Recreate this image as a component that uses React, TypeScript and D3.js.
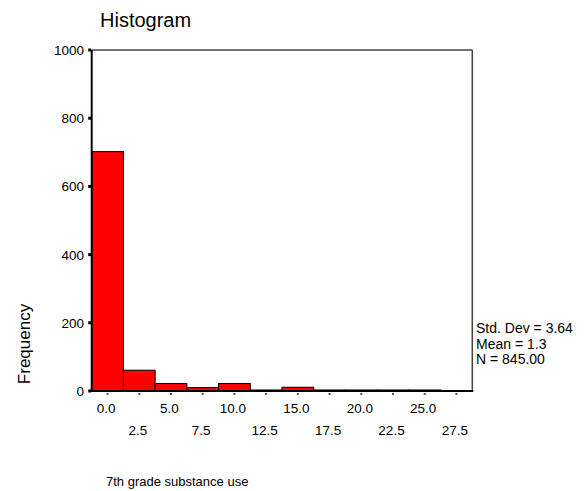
import React from "react";
import * as d3 from "d3";

const binCenters = [0, 2.5, 5, 7.5, 10, 12.5, 15, 17.5, 20, 22.5, 25, 27.5];
const frequencies = [702, 61, 22, 10, 22, 3, 11, 3, 3, 3, 3, 1];
const yTicks = [0, 200, 400, 600, 800, 1000];
const xTicksTop = [0, 5, 10, 15, 20, 25];
const xTicksBottom = [2.5, 7.5, 12.5, 17.5, 22.5, 27.5];
const statLines = ["Std. Dev = 3.64", "Mean = 1.3", "N = 845.00"];
const binWidth = 2.5;

export default function App() {
  const W = 588, H = 491;
  const left = 91.7, right = 472.3, top = 50, bottom = 391;
  const x = d3.scaleLinear().domain([-1.25, 28.75]).range([left, right]);
  const y = d3.scaleLinear().domain([0, 1000]).range([bottom, top]);
  const font = "'Liberation Sans', Arial, sans-serif";
  return (
    <svg width={W} height={H} style={{ position: "absolute", left: 0, top: 0, background: "#fff" }}>
      <rect width={W} height={H} fill="#fff" />
      <text x={100} y={27} fontFamily={font} fontSize={20} fill="#000">Histogram</text>
      <line x1={left} x2={right} y1={top} y2={top} stroke="#444" strokeWidth={1.5} />
      <line x1={right} x2={right} y1={top} y2={bottom} stroke="#444" strokeWidth={1.5} />
      {binCenters.map((c, i) => (
        <rect key={i} x={x(c - binWidth / 2)} y={y(frequencies[i])}
          width={x(c + binWidth / 2) - x(c - binWidth / 2)}
          height={bottom - y(frequencies[i])}
          fill="#ff0000" stroke="#000" strokeWidth={1} />
      ))}
      <line x1={left} x2={left} y1={top} y2={bottom + 1} stroke="#000" strokeWidth={2} />
      <line x1={left} x2={right + 1} y1={bottom} y2={bottom} stroke="#000" strokeWidth={2} />
      {yTicks.map(t => (
        <g key={t}>
          <rect x={left - 3.5} y={y(t) - 1.5} width={3} height={3} fill="#000" />
          <text x={84} y={y(t) + 5} textAnchor="end" fontFamily={font} fontSize={13.5} fill="#000">{t}</text>
        </g>
      ))}
      {binCenters.map(t => (
        <rect key={t} x={x(t) - 1} y={bottom + 2} width={2} height={2} fill="#555" />
      ))}
      {xTicksTop.map(t => (
        <text key={t} x={x(t) - 1.5} y={412.5} textAnchor="middle" fontFamily={font} fontSize={13.5} fill="#000">{t.toFixed(1)}</text>
      ))}
      {xTicksBottom.map(t => (
        <text key={t} x={x(t) - 1.5} y={435} textAnchor="middle" fontFamily={font} fontSize={13.5} fill="#000">{t.toFixed(1)}</text>
      ))}
      <text transform={`translate(30,344) rotate(-90)`} textAnchor="middle" fontFamily={font} fontSize={17} fill="#000">Frequency</text>
      <text x={106} y={486} fontFamily={font} fontSize={13} fill="#000">7th grade substance use</text>
      {statLines.map((s, i) => (
        <text key={s} x={476} y={333 + i * 15.5} fontFamily={font} fontSize={14} fill="#000">{s}</text>
      ))}
    </svg>
  );
}
